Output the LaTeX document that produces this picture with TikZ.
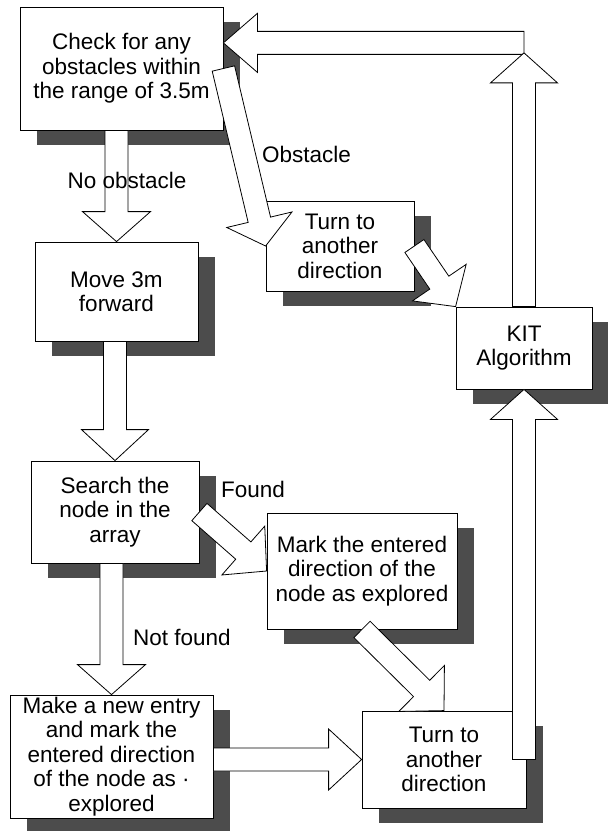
\documentclass[tikz,border=0pt]{standalone}
\usepackage{fontspec}
\setmainfont{Liberation Sans}
\usetikzlibrary{calc,shadows}
\tikzset{
  box/.style={draw=black, line width=0.8pt, fill=white, align=center,
    font=\fontsize{22.5}{24.5}\selectfont, inner sep=0pt,
    drop shadow={shadow xshift=17pt, shadow yshift=-15pt, fill=black!70, opacity=1}},
  arr/.style={draw=black, line width=0.8pt, fill=white, line join=miter},
  lbl/.style={font=\fontsize{22.5}{24.5}\selectfont, inner sep=0pt},
}
% block arrow: tail, tip, head half width, head length
\newcommand\barrow[4]{%
  \coordinate (hb) at ($(#2)!#4!(#1)$);
  \path[arr] ($(#1)!11.5pt!90:(#2)$) -- ($(hb)!11.5pt!90:(#2)$) -- ($(hb)!#3!90:(#2)$)
    -- (#2) -- ($(hb)!#3!-90:(#2)$) -- ($(hb)!11.5pt!-90:(#2)$) -- ($(#1)!11.5pt!-90:(#2)$) -- cycle;
}
\begin{document}
\begin{tikzpicture}[x=1pt,y=-1pt]
\useasboundingbox (0,0) rectangle (608,831);
\fill[white] (0,0) rectangle (608,831);

\node[box, minimum width=203pt, minimum height=123pt] (check) at (121.5,68.5) {Check for any\\obstacles within\\the range of 3.5m};
\node[box, minimum width=163pt, minimum height=99pt] (move) at (116.5,291.5) {Move 3m\\forward};
\node[box, minimum width=168pt, minimum height=102pt] (search) at (115,512) {Search the\\node in the\\array};
\node[box, minimum width=203pt, minimum height=123pt] (make) at (111.5,756.5) {Make a new entry\\and mark the\\entered direction\\of the node as ·\\explored};
\node[box, minimum width=148pt, minimum height=90pt] (turnA) at (340,246) {Turn to\\another\\direction};
\node[box, minimum width=136pt, minimum height=82pt] (kit) at (524,348) {KIT\\Algorithm};
\node[box, minimum width=190pt, minimum height=116pt] (mark) at (362,571) {Mark the entered\\direction of the\\node as explored};
\node[box, minimum width=164pt, minimum height=97pt] (turnB) at (444,759.5) {Turn to\\another\\direction};

% KIT back to check
\coordinate (chk) at ($(check.north east)!0.293!(check.south east)$);
\coordinate (bend) at (kit.north |- chk);
\coordinate (upend) at ($(bend)+(0,10)$);
\barrow{bend}{chk}{29.5pt}{34pt}
\barrow{kit.north}{upend}{33.5pt}{30pt}

\coordinate (a1) at (check.south -| move.north);
\barrow{a1}{move.north}{34pt}{30pt}
\coordinate (a2) at (move.south -| search.north);
\barrow{a2}{search.north}{33.5pt}{31pt}
\coordinate (a3) at (search.south -| make.north);
\barrow{a3}{make.north}{34pt}{30pt}
\barrow{check.east}{turnA.west}{33.5pt}{27pt}
\barrow{turnA.east}{kit.north west}{32.5pt}{29pt}
\barrow{search.east}{mark.west}{32.5pt}{31pt}
\barrow{mark.south}{turnB.north}{32.4pt}{31.5pt}
\coordinate (a9) at (make.east |- turnB.west);
\barrow{a9}{turnB.west}{30.5pt}{33pt}
\coordinate (a10) at (turnB.east -| kit.south);
\barrow{a10}{kit.south}{33.5pt}{30pt}

\node[lbl, anchor=west] (lobs) at (262,154) {Obstacle};
\node[lbl] (lno) at (127,180) {No obstacle};
\node[lbl] (lfound) at (253,489) {Found};
\node[lbl] (lnf) at (182,637) {Not found};
\end{tikzpicture}
\end{document}
